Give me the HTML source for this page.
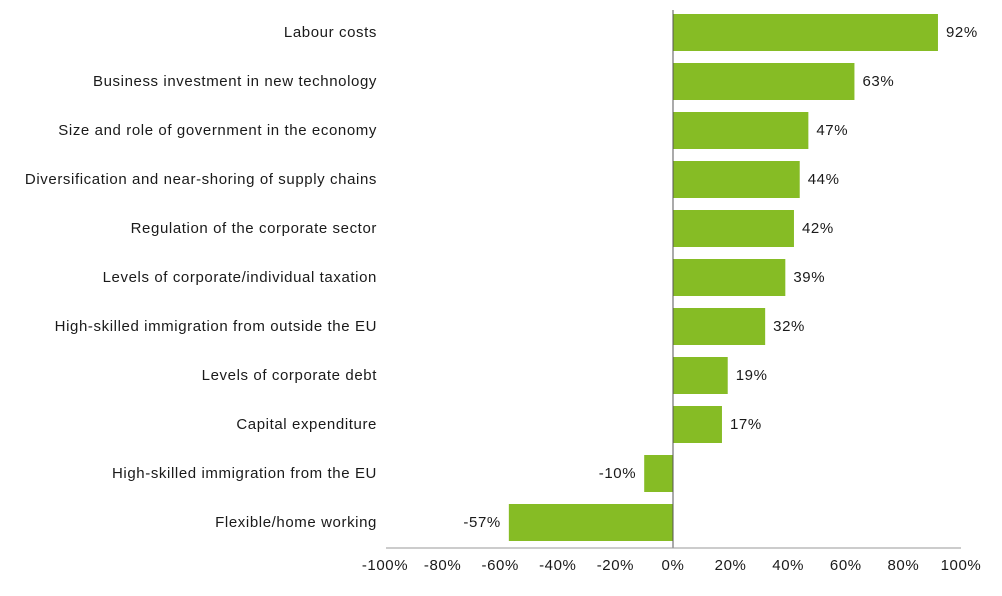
<!DOCTYPE html>
<html><head><meta charset="utf-8"><style>
body{margin:0;background:#fff;}
svg text{font-family:"Liberation Sans",sans-serif;font-size:15px;fill:#1a1a1a;letter-spacing:0.6px;}
</style></head><body>
<svg id="chart" width="1002" height="591">
<g id="bars"></g>
<line x1="386" y1="548" x2="961" y2="548" stroke="#999" stroke-width="1"/>
<g id="ticks"></g>
</svg>
<script>
const categories=["Labour costs","Business investment in new technology","Size and role of government in the economy","Diversification and near-shoring of supply chains","Regulation of the corporate sector","Levels of corporate/individual taxation","High-skilled immigration from outside the EU","Levels of corporate debt","Capital expenditure","High-skilled immigration from the EU","Flexible/home working"];
const values=[92,63,47,44,42,39,32,19,17,-10,-57];
const tickValues=[-100,-80,-60,-40,-20,0,20,40,60,80,100];
const NS="http://www.w3.org/2000/svg";
const x=v=>673+v*2.88;
const yc=i=>32+i*49;
const bars=document.getElementById('bars');
function mk(tag,attrs,parent){const e=document.createElementNS(NS,tag);for(const k in attrs)e.setAttribute(k,attrs[k]);parent.appendChild(e);return e;}
values.forEach((v,i)=>{
  const r=mk('rect',{x:Math.min(x(0),x(v)),y:yc(i)-18,width:Math.abs(x(v)-x(0)),height:37,fill:'#86bc25'},bars);
  
  
  const l=mk('text',{x:377,y:yc(i)+5,'text-anchor':'end'},bars);l.textContent=categories[i];
  
  
  const t=mk('text',{x:v>=0?x(v)+8:x(v)-8,y:yc(i)+5,'text-anchor':v>=0?'start':'end'},bars);t.textContent=v+'%';
  
  
});
const z=mk('line',{x1:x(0),y1:10,x2:x(0),y2:548,stroke:'#555','stroke-width':1},bars);


const ticks=document.getElementById('ticks');
tickValues.forEach(v=>{
  const t=mk('text',{x:x(v),y:570,'text-anchor':'middle'},ticks);t.textContent=v+'%';
  
  
});
</script>
</body></html>
